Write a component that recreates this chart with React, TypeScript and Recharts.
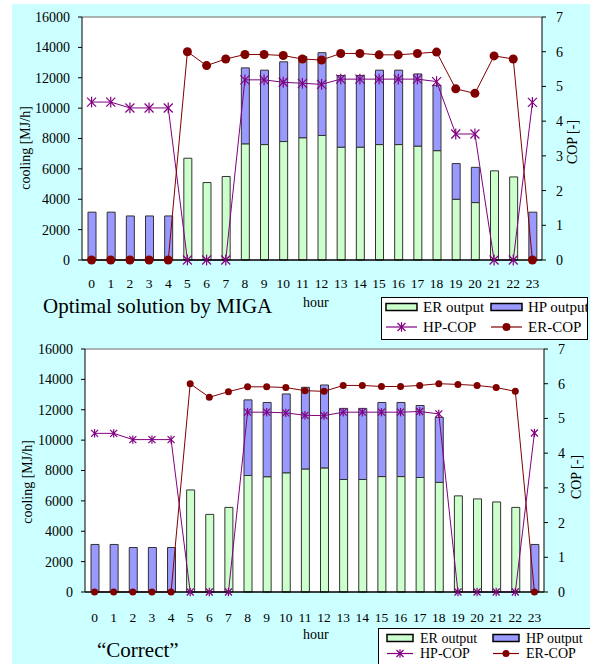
import React from "react"
import { ComposedChart, Bar, Line, XAxis, YAxis, CartesianGrid, ReferenceLine } from "recharts"

const hours = ["0", "1", "2", "3", "4", "5", "6", "7", "8", "9", "10", "11", "12", "13", "14", "15", "16", "17", "18", "19", "20", "21", "22", "23"]
const coolingTicks = [0, 2000, 4000, 6000, 8000, 10000, 12000, 14000, 16000]
const copTicks = [0, 1, 2, 3, 4, 5, 6, 7]

// Optimal solution by MIGA
const erOutMiga = [0, 0, 0, 0, 0, 6700, 5100, 5500, 7650, 7600, 7800, 8050, 8200, 7430, 7430, 7600, 7600, 7500, 7200, 4000, 3780, 5870, 5470, 0]
const hpOutMiga = [3150, 3150, 2900, 2900, 2900, 0, 0, 0, 5000, 4900, 5250, 5350, 5450, 4720, 4720, 4900, 4900, 4750, 4300, 2350, 2320, 0, 0, 3150]
const hpCopMiga = [4.55, 4.55, 4.38, 4.38, 4.38, 0, 0, 0, 5.19, 5.19, 5.12, 5.09, 5.06, 5.21, 5.21, 5.21, 5.21, 5.21, 5.14, 3.63, 3.63, 0, 0, 4.54]
const erCopMiga = [0, 0, 0, 0, 0, 6.0, 5.6, 5.79, 5.92, 5.92, 5.89, 5.79, 5.76, 5.95, 5.95, 5.91, 5.91, 5.95, 5.99, 4.93, 4.8, 5.88, 5.79, 0]

// "Correct"
const erOutCorrect = [0, 0, 0, 0, 0, 6720, 5110, 5570, 7670, 7590, 7850, 8100, 8170, 7410, 7410, 7600, 7600, 7540, 7220, 6330, 6130, 5930, 5570, 0]
const hpOutCorrect = [3130, 3130, 2930, 2930, 2930, 0, 0, 0, 4980, 4890, 5190, 5380, 5460, 4680, 4680, 4880, 4880, 4740, 4280, 0, 0, 0, 0, 3130]
const hpCopCorrect = [4.57, 4.57, 4.39, 4.39, 4.39, 0, 0, 0, 5.18, 5.18, 5.16, 5.09, 5.08, 5.18, 5.18, 5.18, 5.18, 5.2, 5.13, 0, 0, 0, 0, 4.58]
const erCopCorrect = [0, 0, 0, 0, 0, 6.0, 5.61, 5.77, 5.91, 5.91, 5.89, 5.8, 5.78, 5.95, 5.95, 5.92, 5.92, 5.95, 6.0, 5.98, 5.95, 5.89, 5.78, 0]

const FONT = "Liberation Serif, Times New Roman, serif"
const ER_FILL = "#ccffcc"
const HP_FILL = "#9999ff"
const HP_COLOR = "#800080"
const ER_COLOR = "#800000"

function buildRows(er: number[], hp: number[], hpCop: number[], erCop: number[]) {
  return hours.map((h, i) => ({ hour: h, er: er[i], hp: hp[i], hpCop: hpCop[i], erCop: erCop[i] }))
}

function Star(props: any) {
  const { cx, cy, size } = props
  if (cx == null || cy == null) return null
  const s = size
  return (
    <g stroke={HP_COLOR} strokeWidth={1.2}>
      <line x1={cx - s} y1={cy - s} x2={cx + s} y2={cy + s} />
      <line x1={cx - s} y1={cy + s} x2={cx + s} y2={cy - s} />
      <line x1={cx} y1={cy - s * 1.2} x2={cx} y2={cy + s * 1.2} />
    </g>
  )
}

interface ChartProps {
  top: number
  data: any[]
  marginLeft: number
  marginRight: number
  plotTop: number
  tickMargin: number
  leftLabelX: number
  leftLabelY: number
  rightLabelX: number
  rightLabelY: number
  starSize: number
  dotR: number
}

function CoolingChart(p: ChartProps) {
  const height = 300
  const xHeight = 34
  const plotBottom = p.plotTop + 243
  return (
    <div style={{ position: "absolute", left: 0, top: p.top }}>
      <ComposedChart
        width={590}
        height={height}
        data={p.data}
        margin={{ top: p.plotTop, right: p.marginRight - 48, left: p.marginLeft - 70, bottom: height - plotBottom - xHeight }}
        barCategoryGap={0}
        style={{ fontFamily: FONT }}
      >
        <CartesianGrid horizontal={false} vertical={false} fill="#ffffff" />
        <XAxis
          dataKey="hour"
          height={xHeight}
          tickLine={false}
          tickMargin={p.tickMargin}
          axisLine={{ stroke: "#000", strokeWidth: 1.5 }}
          tick={{ fill: "#000", fontSize: 13.5, fontFamily: FONT }}
          interval={0}
        />
        <YAxis
          yAxisId="left"
          width={70}
          domain={[0, 16000]}
          ticks={coolingTicks}
          tickSize={4}
          tickMargin={8}
          axisLine={{ stroke: "#000" }}
          tickLine={{ stroke: "#000" }}
          tick={{ fill: "#000", fontSize: 14, fontFamily: FONT }}
          label={() => (
            <text
              x={p.leftLabelX}
              y={p.leftLabelY}
              transform={`rotate(-90 ${p.leftLabelX} ${p.leftLabelY})`}
              textAnchor="middle"
              dominantBaseline="central"
              fontSize={14}
              fontFamily={FONT}
              fill="#000"
            >
              cooling [MJ/h]
            </text>
          )}
        />
        <YAxis
          yAxisId="right"
          orientation="right"
          width={48}
          domain={[0, 7]}
          ticks={copTicks}
          tickSize={4}
          tickMargin={10}
          axisLine={{ stroke: "#000" }}
          tickLine={{ stroke: "#000" }}
          tick={{ fill: "#000", fontSize: 14, fontFamily: FONT }}
          label={() => (
            <text
              x={p.rightLabelX}
              y={p.rightLabelY}
              transform={`rotate(-90 ${p.rightLabelX} ${p.rightLabelY})`}
              textAnchor="middle"
              dominantBaseline="central"
              fontSize={14}
              fontFamily={FONT}
              fill="#000"
            >
              COP [-]
            </text>
          )}
        />
        <ReferenceLine yAxisId="left" y={16000} stroke="#999" strokeWidth={1.5} />
        <Bar yAxisId="left" dataKey="er" name="ER output" stackId="a" fill={ER_FILL} stroke="#333" strokeWidth={1} barSize={8} isAnimationActive={false} />
        <Bar yAxisId="left" dataKey="hp" name="HP output" stackId="a" fill={HP_FILL} stroke="#333" strokeWidth={1} barSize={8} isAnimationActive={false} />
        <Line
          yAxisId="right"
          dataKey="hpCop"
          name="HP-COP"
          stroke={HP_COLOR}
          strokeWidth={1}
          dot={(d: any) => <Star key={`s${d.index}`} cx={d.cx} cy={d.cy} size={p.starSize} />}
          isAnimationActive={false}
        />
        <Line
          yAxisId="right"
          dataKey="erCop"
          name="ER-COP"
          stroke={ER_COLOR}
          strokeWidth={1}
          dot={{ r: p.dotR, fill: ER_COLOR, stroke: ER_COLOR, strokeWidth: 0 }}
          isAnimationActive={false}
        />
      </ComposedChart>
    </div>
  )
}

interface LegendProps {
  left: number
  top: number
  width: number
  height: number
  row1: number
  row2: number
  c1: number
  c2: number
  sw: number
  gap: number
  fontSize: number
  star: number
  dot: number
}

function LegendBox(p: LegendProps) {
  const textStyle = { fontSize: p.fontSize, fontFamily: FONT, fill: "#000" }
  return (
    <svg style={{ position: "absolute", left: p.left, top: p.top }} width={p.width} height={p.height}>
      <rect x={0.5} y={0.5} width={p.width - 1} height={p.height - 1} fill="#fff" stroke="#000" strokeWidth={1} />
      <rect x={p.c1} y={p.row1 - 3.5} width={p.sw} height={7} fill={ER_FILL} stroke="#000" strokeWidth={1.5} />
      <text x={p.c1 + p.sw + p.gap} y={p.row1} dominantBaseline="central" style={textStyle}>ER output</text>
      <rect x={p.c2} y={p.row1 - 3.5} width={p.sw} height={7} fill={HP_FILL} stroke="#000" strokeWidth={1.5} />
      <text x={p.c2 + p.sw + p.gap} y={p.row1} dominantBaseline="central" style={textStyle}>HP output</text>
      <line x1={p.c1} y1={p.row2} x2={p.c1 + p.sw} y2={p.row2} stroke={HP_COLOR} strokeWidth={1.2} />
      <Star cx={p.c1 + p.sw / 2} cy={p.row2} size={p.star} />
      <text x={p.c1 + p.sw + p.gap} y={p.row2} dominantBaseline="central" style={textStyle}>HP-COP</text>
      <line x1={p.c2} y1={p.row2} x2={p.c2 + p.sw} y2={p.row2} stroke={ER_COLOR} strokeWidth={1.2} />
      <circle cx={p.c2 + p.sw / 2} cy={p.row2} r={p.dot} fill={ER_COLOR} />
      <text x={p.c2 + p.sw + p.gap} y={p.row2} dominantBaseline="central" style={textStyle}>ER-COP</text>
    </svg>
  )
}

export default function App() {
  const migaRows = buildRows(erOutMiga, hpOutMiga, hpCopMiga, erCopMiga)
  const correctRows = buildRows(erOutCorrect, hpOutCorrect, hpCopCorrect, erCopCorrect)
  return (
    <div style={{ position: "fixed", left: 0, top: 0, width: 590, height: 664, background: "#fff", overflow: "hidden", fontFamily: FONT }}>
      <div style={{ position: "absolute", left: 12, top: 4, width: 578, height: 660, background: "#ccffff" }} />
      <CoolingChart
        top={0}
        data={migaRows}
        marginLeft={82}
        marginRight={48}
        plotTop={17}
        tickMargin={12}
        leftLabelX={25}
        leftLabelY={148}
        rightLabelX={572}
        rightLabelY={142}
        starSize={4.5}
        dotR={4.5}
      />
      <div style={{ position: "absolute", left: 43, top: 294, fontSize: 21, color: "#000" }}>Optimal solution by MIGA</div>
      <div style={{ position: "absolute", left: 303, top: 295, fontSize: 14, color: "#000" }}>hour</div>
      <LegendBox left={381} top={297} width={207} height={43} row1={10} row2={30} c1={5} c2={110} sw={31} gap={6} fontSize={15} star={4} dot={4} />

      <CoolingChart
        top={330}
        data={correctRows}
        marginLeft={85}
        marginRight={46}
        plotTop={19}
        tickMargin={14}
        leftLabelX={27}
        leftLabelY={152}
        rightLabelX={576}
        rightLabelY={147}
        starSize={3.5}
        dotR={3.5}
      />
      <div style={{ position: "absolute", left: 97, top: 638, fontSize: 21, color: "#000" }}>{"\u201CCorrect\u201D"}</div>
      <div style={{ position: "absolute", left: 303, top: 627, fontSize: 14, color: "#000" }}>hour</div>
      <LegendBox left={378} top={628} width={214} height={40} row1={10} row2={25.5} c1={9} c2={115} sw={26} gap={7} fontSize={14} star={3.5} dot={3.5} />
    </div>
  )
}
